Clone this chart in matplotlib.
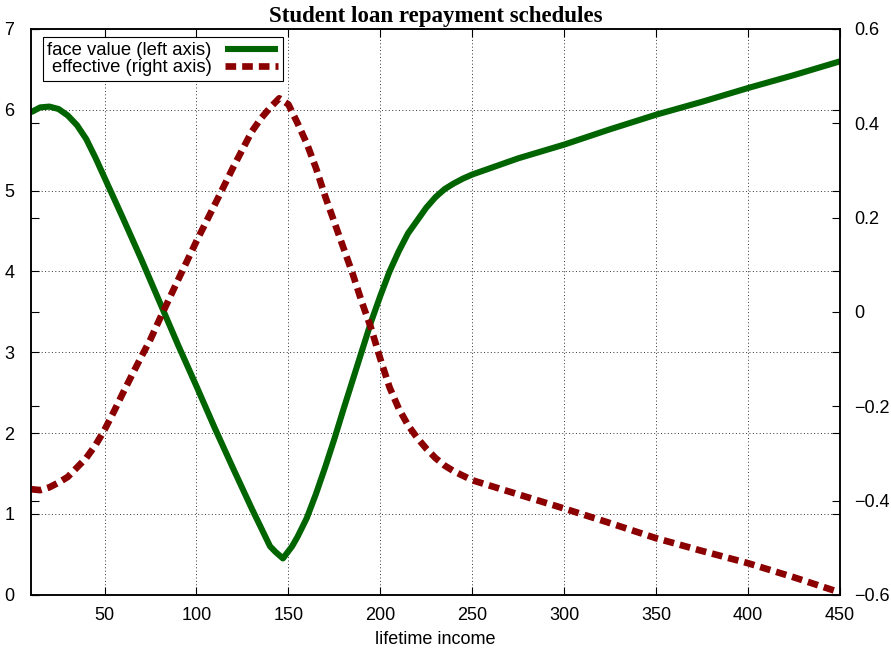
import numpy as np
import matplotlib
matplotlib.use('Agg')
import matplotlib.pyplot as plt

# face value (left axis)
face_income = [10, 15, 20, 25, 30, 35, 40, 45, 50, 55, 60, 70, 80, 90, 100, 110, 120, 130,
               140, 143, 147, 152, 155, 160, 165, 170, 175, 180, 185, 190, 195, 200, 205,
               210, 215, 220, 225, 230, 235, 240, 245, 250, 275, 300, 325, 350, 375, 400,
               425, 450]
face_value = [5.97, 6.03, 6.04, 6.01, 5.93, 5.81, 5.64, 5.41, 5.16, 4.91, 4.66, 4.15, 3.62,
              3.09, 2.58, 2.06, 1.56, 1.07, 0.60, 0.53, 0.45, 0.60, 0.72, 0.95, 1.25, 1.58,
              1.93, 2.30, 2.66, 3.02, 3.38, 3.70, 4.00, 4.25, 4.47, 4.63, 4.79, 4.92, 5.02,
              5.09, 5.15, 5.20, 5.40, 5.57, 5.76, 5.94, 6.10, 6.27, 6.43, 6.60]

# effective (right axis)
eff_income = [10, 15, 20, 25, 30, 35, 40, 45, 50, 55, 60, 65, 70, 75, 80, 90, 100, 110, 120,
              130, 135, 140, 145, 150, 155, 160, 165, 170, 175, 180, 185, 190, 195, 200, 205,
              210, 215, 220, 225, 230, 235, 240, 250, 275, 300, 325, 350, 375, 400, 425, 450]
eff_value = [-0.376, -0.378, -0.372, -0.362, -0.350, -0.330, -0.310, -0.283, -0.250, -0.212,
             -0.172, -0.133, -0.095, -0.058, -0.015, 0.068, 0.150, 0.228, 0.307, 0.382, 0.410,
             0.433, 0.453, 0.440, 0.400, 0.357, 0.305, 0.245, 0.190, 0.135, 0.080, 0.020,
             -0.035, -0.100, -0.160, -0.205, -0.240, -0.267, -0.290, -0.310, -0.326, -0.338,
             -0.357, -0.387, -0.417, -0.448, -0.480, -0.507, -0.533, -0.563, -0.595]

x_ticks = [50, 100, 150, 200, 250, 300, 350, 400, 450]
y1_ticks = [0, 1, 2, 3, 4, 5, 6, 7]
y2_ticks = [-0.6, -0.4, -0.2, 0, 0.2, 0.4, 0.6]
y2_labels = ['\u22120.6', '\u22120.4', '\u22120.2', '0', '0.2', '0.4', '0.6']

plt.rcParams['font.family'] = ['Liberation Sans', 'DejaVu Sans']
plt.rcParams['font.size'] = 13

fig = plt.figure(figsize=(8.91, 6.53), dpi=100)
ax1 = fig.add_axes([0.0348, 0.0891, 0.9080, 0.8665])
ax2 = ax1.twinx()

l1, = ax1.plot(face_income, face_value, color='#006400', lw=4.4,
               solid_capstyle='butt', label='face value (left axis)')
l2, = ax2.plot(eff_income, eff_value, color='#8b0000', lw=4.8,
               linestyle=(0, (1.6, 0.9)), dash_capstyle='butt',
               label='effective (right axis)')

ax1.set_xlim(10, 450)
ax1.set_ylim(0, 7)
ax2.set_ylim(-0.6, 0.6)
ax1.set_xticks(x_ticks)
ax1.set_yticks(y1_ticks)
ax2.set_yticks(y2_ticks, y2_labels)

ax1.grid(True, color='#333333', lw=0.7, linestyle=(0, (1, 2.5)))
ax1.tick_params(direction='in', length=6, width=0.8, top=True, right=True,
                labelright=False, pad=9)
ax1.tick_params(axis='y', pad=12)
ax2.tick_params(direction='in', length=6, width=0.8, left=True, right=True,
                labelleft=False, labelright=True, pad=10)

for ax in (ax1, ax2):
    for sp in ax.spines.values():
        sp.set_linewidth(1.1)

ax1.set_xlabel('lifetime income', labelpad=5)
ax1.set_title('Student loan repayment schedules', fontsize=16.5, fontweight='bold',
              family='Liberation Serif', pad=5)

leg = ax2.legend(handles=[l1, l2], loc='upper left', bbox_to_anchor=(0.0145, 0.985),
                 borderaxespad=0, markerfirst=False, fancybox=False, framealpha=1,
                 edgecolor='black', fontsize=13.3, handlelength=2.9, handletextpad=0.7,
                 labelspacing=0.0, borderpad=0.25)
leg.get_frame().set_linewidth(0.8)

fig.savefig('out.png', dpi=100)
